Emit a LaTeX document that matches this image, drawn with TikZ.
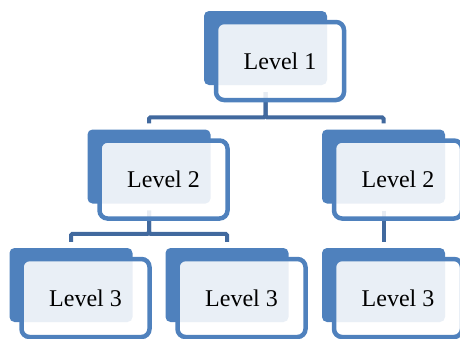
\documentclass[tikz,border=0pt]{standalone}
\usepackage{fontspec}
\setmainfont{Liberation Serif}
\usepackage{tikz}
\usetikzlibrary{calc}
\usepackage{xcolor}
\definecolor{OrgBlue}{HTML}{4F81BD}
\definecolor{OrgLine}{HTML}{41699E}
\tikzset{
    % Node styles
    backbox/.style={
        rectangle,
        fill=OrgBlue,
        rounded corners=5pt,
        inner sep=0pt,
        minimum width=123pt,
        minimum height=74pt
    },
    frontbox/.style={
        rectangle,
        draw=OrgBlue,
        line width=4.5pt,
        fill=white,
        fill opacity=0.88,
        text opacity=1,
        rounded corners=8pt,
        inner sep=0pt,
        minimum width=128pt,
        minimum height=78pt,
        text centered,
        font=\fontsize{24}{28}\selectfont
    },
    % Connector style
    orgline/.style={
        draw=OrgLine,
        line width=4pt,
        rounded corners=1.5pt
    }
}
\begin{document}
\begin{tikzpicture}[x=1pt,y=-1pt]
    \useasboundingbox (0,0) rectangle (460,338);
    % Back boxes
    \node[backbox] (b1) at (265.5,48) {};
    \node[backbox] (b2) at (149,166.5) {};
    \node[backbox] (b3) at (383.5,166.5) {};
    \node[backbox] (b4) at (71,285) {};
    \node[backbox] (b5) at (227,285) {};
    \node[backbox] (b6) at (383.5,285) {};

    % Connectors
    \draw[orgline] ([yshift=-7pt]b1.south) |- ($(b2.north)+(0,-12)$) -- ([yshift=6pt]b2.north);
    \draw[orgline] ([yshift=-7pt]b1.south) |- ($(b3.north)+(0,-12)$) -- ([yshift=6pt]b3.north);
    \draw[orgline] ([yshift=-7pt]b2.south) |- ($(b4.north)+(0,-14)$) -- ([yshift=6pt]b4.north);
    \draw[orgline] ([yshift=-7pt]b2.south) |- ($(b5.north)+(0,-14)$) -- ([yshift=6pt]b5.north);
    \draw[orgline] ([yshift=-7pt]b3.south) -- ([yshift=6pt]b6.north);

    % Front boxes
    \node[frontbox] (f1) at ($(b1)+(14.5,13)$) {Level 1};
    \node[frontbox] (f2) at ($(b2)+(14.5,13)$) {Level 2};
    \node[frontbox] (f3) at ($(b3)+(14.5,13)$) {Level 2};
    \node[frontbox] (f4) at ($(b4)+(14.5,13)$) {Level 3};
    \node[frontbox] (f5) at ($(b5)+(14.5,13)$) {Level 3};
    \node[frontbox] (f6) at ($(b6)+(14.5,13)$) {Level 3};
\end{tikzpicture}
\end{document}
